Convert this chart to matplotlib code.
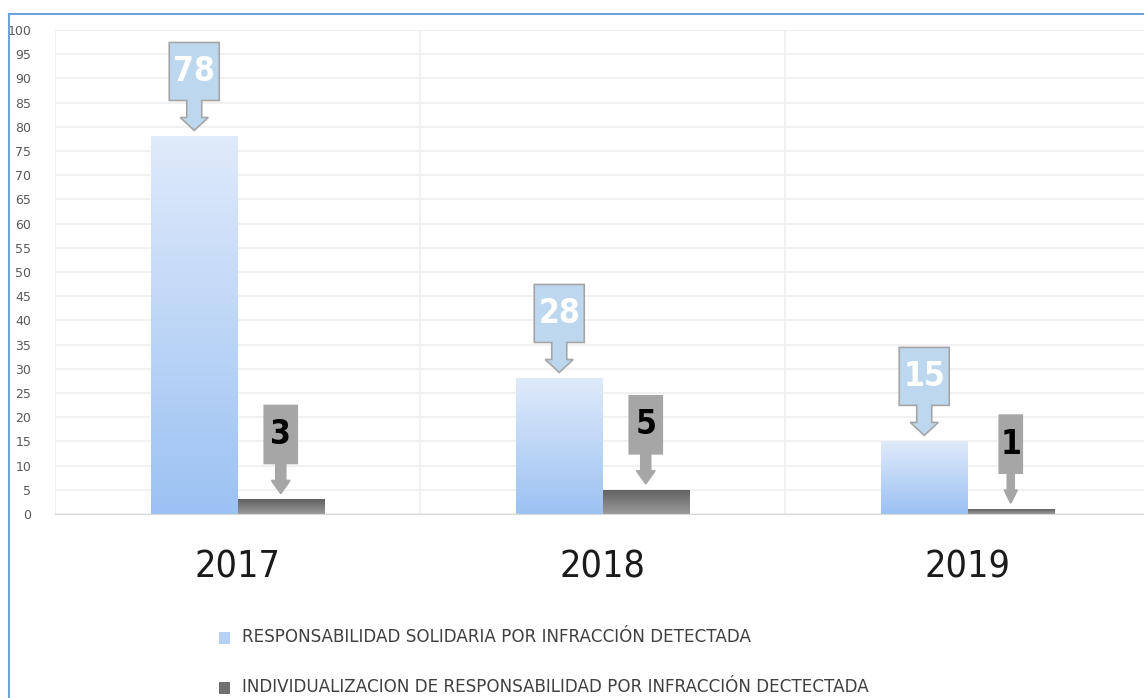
import matplotlib.pyplot as plt
import matplotlib.transforms as mtransforms
from matplotlib.patches import Polygon
from matplotlib.lines import Line2D
from matplotlib.colors import LinearSegmentedColormap
import numpy as np

years = ['2017', '2018', '2019']
solidaria = [78, 28, 15]
individual = [3, 5, 1]
series_names = ['RESPONSABILIDAD SOLIDARIA POR INFRACCIÓN DETECTADA',
                'INDIVIDUALIZACION DE RESPONSABILIDAD POR INFRACCIÓN DECTECTADA']

COND = ['DejaVu Sans']


def gradient_bars(ax, bars, top_color, bottom_color):
    cmap = LinearSegmentedColormap.from_list('g', [bottom_color, top_color])
    grad = np.linspace(1, 0, 64).reshape(-1, 1)
    for b in bars:
        x0, y0 = b.get_x(), b.get_y()
        w, h = b.get_width(), b.get_height()
        im = ax.imshow(grad, extent=[x0, x0 + w, y0, y0 + h], cmap=cmap,
                       aspect='auto', zorder=2, interpolation='bicubic')
        im.set_clip_path(b)


def callout(ax, fig, x, y, text, fill, tcolor, boxw):
    # shape in pixels (dpi 100 -> inches / 100), anchored at bar top
    sw = boxw * 0.15
    hw = boxw * 0.28
    pts = [(0, 6), (-hw, 19), (-sw, 19), (-sw, 36), (-boxw / 2, 36),
           (-boxw / 2, 94), (boxw / 2, 94), (boxw / 2, 36), (sw, 36),
           (sw, 19), (hw, 19)]
    pts = [(px / 100.0, py / 100.0) for px, py in pts]
    tr = fig.dpi_scale_trans + mtransforms.ScaledTranslation(x, y, ax.transData)
    ax.add_patch(Polygon(pts, closed=True, transform=tr, facecolor=fill,
                         edgecolor='#a6a6a6', lw=1.2, zorder=5, clip_on=False))
    ax.text(0, 0.65, text, transform=tr, ha='center', va='center',
            fontsize=24, fontweight='bold', fontstretch='condensed',
            color=tcolor, family=COND, zorder=6)


def main():
    fig = plt.figure(figsize=(11.44, 6.98), dpi=100)
    ax = fig.add_axes([55 / 1144, 1 - 514 / 698, 1095 / 1144, 484 / 698])

    x = np.arange(len(years))
    w = 0.237
    b1 = ax.bar(x - w / 2, solidaria, w, color='none', zorder=2)
    b2 = ax.bar(x + w / 2, individual, w, color='none', zorder=2)
    gradient_bars(ax, b1, '#dfeafa', '#9cc2f3')
    gradient_bars(ax, b2, '#606060', '#9a9a9a')

    ax.set_xlim(-0.5, 2.5)
    ax.set_ylim(0, 100)
    ax.set_yticks(np.arange(0, 101, 5))
    ax.set_xticks([])
    ax.grid(axis='y', color='#efefef', lw=1.2, zorder=0)
    for v in [-0.5, 0.5, 1.5, 2.5]:
        ax.axvline(v, color='#efefef', lw=1.2, zorder=0)
    for s in ['top', 'right', 'left']:
        ax.spines[s].set_visible(False)
    ax.spines['bottom'].set_color('#d9d9d9')
    ax.tick_params(axis='y', length=0, labelsize=9, labelcolor='#595959', pad=17)

    for xi, v in zip(x - w / 2, solidaria):
        callout(ax, fig, xi, v, str(v), '#bdd7ee', 'white', 50)
    for xi, v, bw in zip(x + w / 2, individual, [33, 33, 23]):
        callout(ax, fig, xi, v, str(v), '#a6a6a6', 'black', bw)

    for xi, yr in zip(x, years):
        ax.text(xi, -11, yr, ha='center', va='center', fontsize=27,
                fontstretch='condensed', color='#1a1a1a', family=COND)

    # legend
    fig.patches.append(plt.Rectangle((219 / 1144, 1 - 644 / 698), 11 / 1144, 12 / 698,
                                     transform=fig.transFigure, facecolor='#b5d2f5',
                                     edgecolor='none'))
    fig.patches.append(plt.Rectangle((219 / 1144, 1 - 694 / 698), 11 / 1144, 12 / 698,
                                     transform=fig.transFigure, facecolor='#707070',
                                     edgecolor='none'))
    fig.text(242 / 1144, 1 - 637 / 698, series_names[0], fontsize=12.1,
             color='#404040', va='center', family=['DejaVu Sans'])
    fig.text(242 / 1144, 1 - 687 / 698, series_names[1], fontsize=12.1,
             color='#404040', va='center', family=['DejaVu Sans'])

    # outer frame
    fig.add_artist(Line2D([9 / 1144, 9 / 1144], [0, 1 - 14 / 698],
                          transform=fig.transFigure, color='#6fa3dc', lw=1.5))
    fig.add_artist(Line2D([9 / 1144, 1], [1 - 14 / 698, 1 - 14 / 698],
                          transform=fig.transFigure, color='#6fa3dc', lw=1.5))

    fig.savefig('out.png', dpi=100)


if __name__ == "__main__":
    main()
